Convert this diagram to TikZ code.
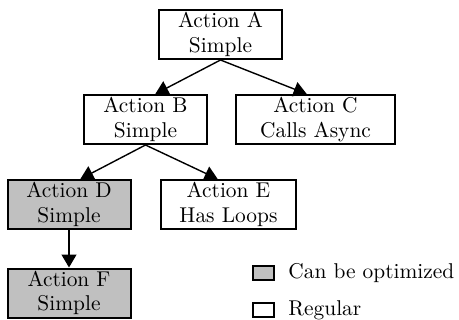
\documentclass[tikz,border=0pt]{standalone}
\usepackage{amssymb}
\usepackage{amsmath}
\usepackage{xcolor}
\usepackage{tikz}
\usetikzlibrary{calc,arrows.meta}
\definecolor{optgray}{RGB}{192,192,192}

\begin{document}
\begin{tikzpicture}[x=0.5pt,y=-0.5pt,font=\fontsize{10.7}{12.3}\selectfont,
    action/.style={draw,line width=1pt,align=center,minimum width=61.5pt,minimum height=24.5pt,inner xsep=9pt,inner ysep=1pt},
    opt/.style={action,fill=optgray},
    key/.style={draw,line width=1pt,minimum width=10.5pt,minimum height=7pt,inner sep=0pt},
    call/.style={line width=0.7pt,-{Triangle[length=6.5pt,width=7.5pt]}}]
    \useasboundingbox (0,0) rectangle (459,320);
    \node[action] (a) at (220.5,34.5) {Action A\\Simple};
    \node[action] (b) at (145.5,119.5) {Action B\\Simple};
    \node[action,minimum width=79.5pt] (c) at (315.5,119.5) {Action C\\Calls Async};
    \node[opt] (d) at (69,204.5) {Action D\\Simple};
    \node[action] (e) at (228.5,204.5) {Action E\\Has Loops};
    \node[opt] (f) at (69,293) {Action F\\Simple};
    \draw[call] (a.south) -- (b.69);
    \draw[call] (a.south) -- (c.109);
    \draw[call] (b.south) -- (d.66);
    \draw[call] (b.south) -- (e.113);
    \draw[call] (d.south) -- (f.north);
    \node[key,fill=optgray] (k1) at (263.5,273) {};
    \node[key] (k2) at (263.5,310) {};
    \node[anchor=west,inner sep=0pt] (t1) at (288,273) {Can be optimized};
    \node[anchor=west,inner sep=0pt] (t2) at (288,310) {Regular};
\end{tikzpicture}
\end{document}
